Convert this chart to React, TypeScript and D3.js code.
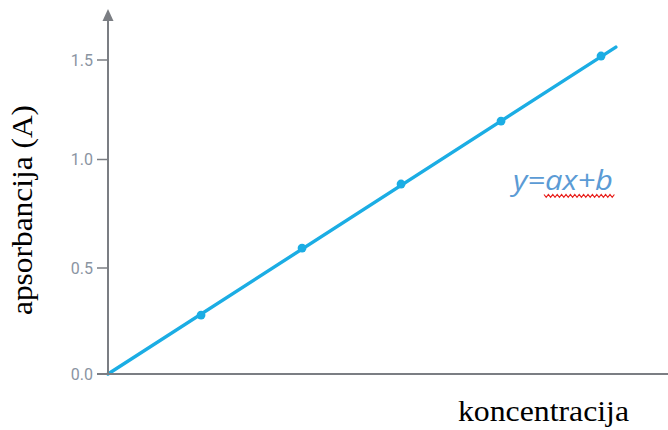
import React from "react";
import * as d3 from "d3";

const concentration = [0.94, 1.96, 2.96, 3.97, 4.98];
const absorbance = [0.278, 0.592, 0.887, 1.193, 1.52];
const fitLineX = [0, 5.13];
const fitLineY = [0, 1.565];
const yTicks = [0, 0.5, 1.0, 1.5];
const yTickLabels = ["0.0", "0.5", "1.0", "1.5"];

const W = 668;
const H = 430;

export default function App() {
  const x = d3.scaleLinear().domain([0, 5]).range([108, 603]);
  const y = d3
    .scaleLinear()
    .domain([0, 0.5, 1.0, 1.5])
    .range([374, 268, 159.5, 60]);

  const lineGen = d3
    .line<number>()
    .x((_, i) => x(fitLineX[i]))
    .y((d) => y(d));

  const axisColor = "#7b7e83";
  const blue = "#1badE4";

  const wavePts: [number, number][] = [];
  let k = 0;
  for (let px = 544; px <= 615; px += 2.2) {
    wavePts.push([px, k % 2 === 0 ? 194.5 : 197.3]);
    k++;
  }
  const waveLine = d3.line()(wavePts) || "";

  return (
    <svg
      width={W}
      height={H}
      style={{ position: "absolute", left: 0, top: 0, background: "#fff" }}
    >
      <path
        d={lineGen(fitLineY) || ""}
        stroke={blue}
        strokeWidth={3.4}
        fill="none"
        strokeLinecap="round"
      />
      {concentration.map((c, i) => (
        <circle key={i} cx={x(c)} cy={y(absorbance[i])} r={4.4} fill={blue} />
      ))}

      <line x1={108} x2={108} y1={375} y2={18} stroke={axisColor} strokeWidth={2} />
      <path d="M108,9 L102.5,21 L113.5,21 Z" fill={axisColor} />
      <line x1={97} x2={668} y1={374} y2={374} stroke={axisColor} strokeWidth={2} />

      {yTicks.map((t, i) => (
        <g key={i}>
          <line x1={97} x2={108} y1={y(t)} y2={y(t)} stroke={axisColor} strokeWidth={1.5} />
          <text
            x={93}
            y={y(t)}
            dy="0.36em"
            textAnchor="end"
            fontFamily="Roboto, sans-serif"
            fontSize={16}
            fill="#8a94a2"
          >
            {yTickLabels[i]}
          </text>
        </g>
      ))}

      <text
        transform="translate(32,210) rotate(-90)"
        textAnchor="middle"
        fontFamily="'Liberation Serif', 'Times New Roman', serif"
        fontSize={30}
        textLength={210}
        lengthAdjust="spacingAndGlyphs"
        fill="#000"
      >
        apsorbancija (A)
      </text>
      <text
        x={458}
        y={421}
        fontFamily="'Liberation Serif', 'Times New Roman', serif"
        fontSize={30}
        textLength={171}
        lengthAdjust="spacingAndGlyphs"
        fill="#000"
      >
        koncentracija
      </text>

      <text
        x={513}
        y={190}
        fontFamily="'Open Sans', sans-serif"
        fontStyle="italic"
        fontSize={28}
        textLength={100}
        lengthAdjust="spacingAndGlyphs"
        fill="#5b9bd5"
      >
        y=ax+b
      </text>
      <path d={waveLine} stroke="#e8201c" strokeWidth={1.2} fill="none" />
    </svg>
  );
}
